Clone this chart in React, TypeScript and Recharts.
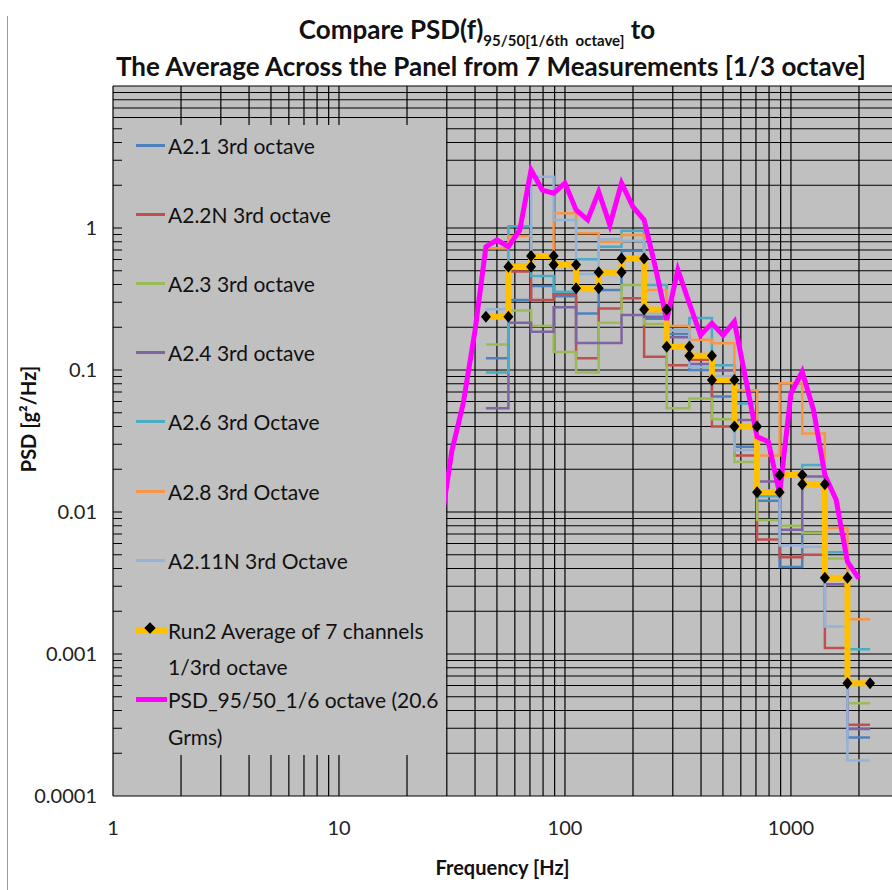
import React from 'react';
import { LineChart, Line, XAxis, YAxis, CartesianGrid, Legend, ReferenceLine } from 'recharts';

const GREY = '#c0c0c0';
const FONT = "Lato, 'Open Sans', sans-serif";

// 1/3 octave band edges (Hz) for the bands 50 ... 2000 Hz
const BAND_EDGES = [44.7, 56.2, 70.8, 89.1, 112, 141, 178, 224, 282, 355, 447, 562, 708, 891, 1122, 1413, 1778, 2239];

// band levels, g^2/Hz, one value per band (50 ... 2000 Hz)
const A2_1 = [0.121, 0.311, 0.39, 0.33, 0.25, 0.366, 0.692, 0.23, 0.179, 0.1, 0.065, 0.0288, 0.012, 0.0041, 0.0072, 0.0034, 0.000258];
const A2_2N = [0.24, 0.493, 0.311, 0.343, 0.121, 0.271, 0.32, 0.124, 0.108, 0.118, 0.04, 0.025, 0.0064, 0.0048, 0.005, 0.0011, 0.000318];
const A2_3 = [0.151, 0.262, 0.204, 0.134, 0.096, 0.215, 0.397, 0.211, 0.0537, 0.063, 0.045, 0.0225, 0.0088, 0.008, 0.0071, 0.0047, 0.00045];
const A2_4 = [0.0537, 0.215, 0.186, 0.277, 0.155, 0.155, 0.244, 0.237, 0.17, 0.11, 0.099, 0.0445, 0.0164, 0.0075, 0.0178, 0.0031, 0.000296];
const A2_6 = [0.096, 1.03, 0.459, 0.356, 0.602, 0.738, 0.957, 0.397, 0.191, 0.232, 0.108, 0.058, 0.0129, 0.018, 0.0214, 0.0052, 0.00108];
const A2_8 = [0.72, 0.88, 0.63, 1.27, 0.917, 0.8, 0.893, 0.366, 0.204, 0.163, 0.154, 0.072, 0.025, 0.0806, 0.0357, 0.0077, 0.00176];
const A2_11N = [0.268, 0.55, 2.3, 1.14, 0.475, 0.832, 0.814, 0.25, 0.19, 0.105, 0.09, 0.0273, 0.0137, 0.0058, 0.0057, 0.00156, 0.000178];
const RUN2_AVG = [0.237, 0.534, 0.635, 0.55, 0.376, 0.488, 0.611, 0.267, 0.146, 0.126, 0.085, 0.04, 0.0138, 0.0182, 0.0157, 0.00345, 0.000622];

// 1/6 octave PSD 95/50
const PSD_FREQ = [28.2, 31.6, 35.5, 40, 44.7, 50, 56.2, 63.1, 70.8, 79.4, 89.1, 100, 112, 126, 141, 158, 178, 200, 224, 251, 282, 316, 355, 398, 447, 501, 562, 631, 708, 794, 891, 1000, 1122, 1259, 1413, 1585, 1778, 1995];
const PSD_VAL = [0.008, 0.027, 0.0586, 0.19, 0.739, 0.823, 0.739, 0.968, 2.56, 1.85, 1.76, 2.07, 1.34, 1.14, 1.8, 1.05, 2.07, 1.41, 1.14, 0.534, 0.225, 0.506, 0.295, 0.176, 0.213, 0.176, 0.219, 0.086, 0.0339, 0.0313, 0.0135, 0.0685, 0.0973, 0.0523, 0.0182, 0.0122, 0.00447, 0.00341];

const X_TICKS = [1, 10, 100, 1000];
const Y_TICKS = [0.0001, 0.001, 0.01, 0.1, 1];
const X_GRID = [1, 2, 3, 4, 5, 6, 7, 8, 9, 10, 20, 30, 40, 50, 60, 70, 80, 90, 100, 200, 300, 400, 500, 600, 700, 800, 900, 1000, 2000];
const Y_GRID = [
  0.0001, 0.0002, 0.0003, 0.0004, 0.0005, 0.0006, 0.0007, 0.0008, 0.0009,
  0.001, 0.002, 0.003, 0.004, 0.005, 0.006, 0.007, 0.008, 0.009,
  0.01, 0.02, 0.03, 0.04, 0.05, 0.06, 0.07, 0.08, 0.09,
  0.1, 0.2, 0.3, 0.4, 0.5, 0.6, 0.7, 0.8, 0.9,
  1, 2, 3, 4, 5, 6, 7, 8, 9, 10,
];

const BAND_SERIES = [
  { name: 'A2.1 3rd octave', color: '#4f81bd', values: A2_1 },
  { name: 'A2.2N 3rd octave', color: '#c0504d', values: A2_2N },
  { name: 'A2.3 3rd octave', color: '#9bbb59', values: A2_3 },
  { name: 'A2.4 3rd octave', color: '#8064a2', values: A2_4 },
  { name: 'A2.6 3rd Octave', color: '#4bacc6', values: A2_6 },
  { name: 'A2.8 3rd Octave', color: '#f79646', values: A2_8 },
  { name: 'A2.11N 3rd Octave', color: '#95b3d7', values: A2_11N },
];

// each band becomes a flat segment from its lower to its upper edge
function toSteps(values: number[]) {
  const pts: { f: number; v: number }[] = [];
  values.forEach((v, i) => {
    pts.push({ f: BAND_EDGES[i], v });
    pts.push({ f: BAND_EDGES[i + 1], v });
  });
  return pts;
}

const psdData = PSD_FREQ.map((f, i) => ({ f, v: PSD_VAL[i] }));

function Diamond(props: any) {
  const { cx, cy, index } = props;
  if (cx == null || cy == null) return <g key={`dm-${index}`} />;
  return <path key={`dm-${index}`} d={`M${cx},${cy - 6}L${cx + 5},${cy}L${cx},${cy + 6}L${cx - 5},${cy}Z`} fill="#000" />;
}

function LegendBox() {
  const rowTop = (c: number) => c - 16;
  return (
    <div style={{ position: 'relative', width: 324, height: 630, background: GREY, fontFamily: FONT, fontSize: 21, color: '#111' }}>
      {BAND_SERIES.map((s, i) => (
        <div key={s.name} style={{ position: 'absolute', left: 14, top: rowTop(20 + i * 69.2), height: 32, display: 'flex', alignItems: 'center', whiteSpace: 'nowrap' }}>
          <span style={{ display: 'inline-block', width: 29, height: 3, background: s.color }} />
          <span style={{ marginLeft: 3 }}>{s.name}</span>
        </div>
      ))}
      <div style={{ position: 'absolute', left: 14, top: rowTop(505), height: 32, display: 'flex', alignItems: 'center', whiteSpace: 'nowrap' }}>
        <span style={{ position: 'relative', display: 'inline-block', width: 31, height: 6, background: '#ffc000' }}>
          <span style={{ position: 'absolute', left: 10, top: -3, width: 8, height: 8, background: '#000', transform: 'rotate(45deg)' }} />
        </span>
        <span style={{ marginLeft: 1 }}>Run2 Average of 7 channels</span>
      </div>
      <div style={{ position: 'absolute', left: 46, top: rowTop(541), height: 32, display: 'flex', alignItems: 'center', whiteSpace: 'nowrap' }}>1/3rd octave</div>
      <div style={{ position: 'absolute', left: 14, top: rowTop(574), height: 32, display: 'flex', alignItems: 'center', whiteSpace: 'nowrap' }}>
        <span style={{ display: 'inline-block', width: 31, height: 5, background: '#ff00ff' }} />
        <span style={{ marginLeft: 1 }}>PSD_95/50_1/6 octave (20.6</span>
      </div>
      <div style={{ position: 'absolute', left: 46, top: rowTop(611), height: 32, display: 'flex', alignItems: 'center', whiteSpace: 'nowrap' }}>Grms)</div>
    </div>
  );
}

export default function App() {
  return (
    <div style={{ position: 'absolute', left: 0, top: 0, width: 892, height: 890, background: '#fff', overflow: 'hidden', fontFamily: FONT }}>
      <div style={{ position: 'absolute', left: 7, top: 16, bottom: 0, width: 1, background: '#9a9a9a' }} />
      <div style={{ position: 'absolute', left: 90, right: 0, top: 11, textAlign: 'center', fontWeight: 700, fontSize: 26, lineHeight: '37px', color: '#111' }}>
        <div style={{ paddingRight: 28 }}>
          Compare PSD(f)
          <sub style={{ fontSize: 15, lineHeight: 0, verticalAlign: -7 }}>95/50[1/6th&nbsp;&nbsp;octave]</sub> to
        </div>
        <div>The Average Across the Panel from 7 Measurements [1/3 octave]</div>
      </div>
      <LineChart width={892} height={890} margin={{ top: 86, right: 0, bottom: 34, left: 13 }} style={{ position: 'absolute', left: 0, top: 0 }}>
        <CartesianGrid horizontal={false} vertical={false} fill={GREY} fillOpacity={1} />
        <XAxis
          dataKey="f"
          type="number"
          scale="log"
          domain={[1, 2800]}
          allowDataOverflow
          ticks={X_TICKS}
          interval={0}
          height={60}
          axisLine={false}
          tickLine={false}
          tickSize={23}
          tickMargin={2}
          tick={{ fontSize: 20, fill: '#222', fontFamily: FONT }}
          label={({ viewBox }: any) => (
            <text x={viewBox.x + viewBox.width / 2} y={viewBox.y + 79} textAnchor="middle" fontSize={20} fontWeight={700} fill="#111" fontFamily={FONT}>
              Frequency [Hz]
            </text>
          )}
        />
        <YAxis
          type="number"
          scale="log"
          domain={[0.0001, 10]}
          allowDataOverflow
          ticks={Y_TICKS}
          interval={0}
          width={100}
          axisLine={false}
          tickLine={false}
          tickSize={14}
          tickMargin={2}
          tickFormatter={(v: number) => String(v)}
          tick={{ fontSize: 20, fill: '#222', fontFamily: FONT }}
          label={() => (
            <text x={28} y={419} transform="rotate(-90 28 419)" textAnchor="middle" dominantBaseline="central" fontSize={20} fontWeight={700} fill="#111" fontFamily={FONT}>
              PSD [g²/Hz]
            </text>
          )}
        />
        {Y_GRID.map((v) => (
          <ReferenceLine key={`gy-${v}`} y={v} stroke="#000" strokeWidth={1.2} zIndex={-50} />
        ))}
        {X_GRID.map((v) => (
          <ReferenceLine key={`gx-${v}`} x={v} stroke="#000" strokeWidth={1.2} zIndex={-50} />
        ))}
        {BAND_SERIES.map((s) => (
          <Line
            key={s.name}
            data={toSteps(s.values)}
            dataKey="v"
            name={s.name}
            type="linear"
            stroke={s.color}
            strokeWidth={2.5}
            dot={false}
            activeDot={false}
            isAnimationActive={false}
          />
        ))}
        <Line
          data={toSteps(RUN2_AVG)}
          dataKey="v"
          name="Run2 Average of 7 channels 1/3rd octave"
          type="linear"
          stroke="#ffc000"
          strokeWidth={6}
          dot={Diamond}
          activeDot={false}
          isAnimationActive={false}
        />
        <Line
          data={psdData}
          dataKey="v"
          name="PSD_95/50_1/6 octave (20.6 Grms)"
          type="linear"
          stroke="#ff00ff"
          strokeWidth={5}
          dot={false}
          activeDot={false}
          isAnimationActive={false}
        />
        <Legend
          layout="vertical"
          align="center"
          verticalAlign="middle"
          content={() => <LegendBox />}
          wrapperStyle={{ left: 122, top: 125, width: 324, height: 630, background: GREY }}
        />
      </LineChart>
    </div>
  );
}
